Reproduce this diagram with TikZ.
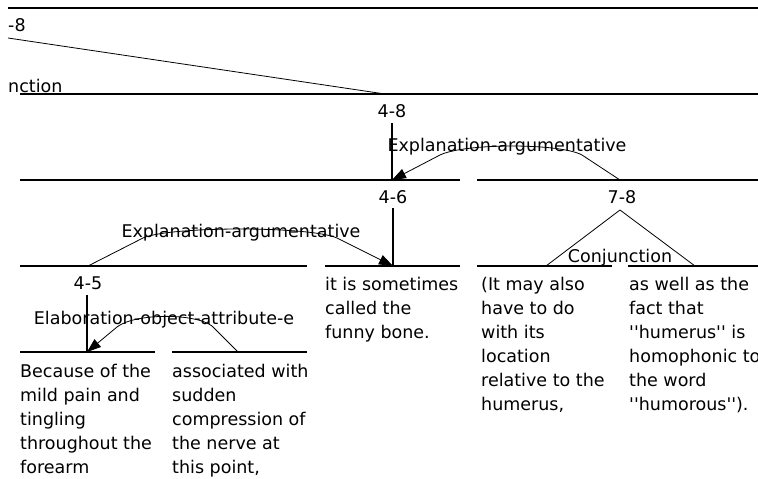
\documentclass[tikz,border=0pt]{standalone}
\usepackage{fontspec}
\setmainfont{DejaVu Sans}
\usetikzlibrary{arrows.meta}
\begin{document}
\begin{tikzpicture}[x=1pt,y=-1pt,
  lbl/.style={font=\fontsize{17.5}{24}\selectfont, inner sep=0pt},
  txt/.style={lbl, anchor=north west, align=left},
  spanline/.style={line width=1.3pt},
  topline/.style={line width=1.8pt},
  rel/.style={line width=0.8pt},
  arr/.style={rel, -{Triangle[length=14pt,width=10pt]}},
  vert/.style={line width=1.2pt},
]
\useasboundingbox (0,0) rectangle (758,479);
\clip (0,0) rectangle (758,479);

% span line end points
\coordinate (a0) at (8,8);    \coordinate (b0) at (758,8);
\coordinate (a48) at (20,94); \coordinate (b48) at (758,94);
\coordinate (a46) at (20,180); \coordinate (b46) at (460,180);
\coordinate (a78) at (477,180); \coordinate (b78) at (758,180);
\coordinate (a45) at (20,266); \coordinate (b45) at (307,266);
\coordinate (a6) at (325,266); \coordinate (b6) at (460,266);
\coordinate (a7) at (477,266); \coordinate (b7) at (612,266);
\coordinate (a8) at (628,266); \coordinate (b8) at (758,266);
\coordinate (a4) at (20,352); \coordinate (b4) at (155,352);
\coordinate (a5) at (172,352); \coordinate (b5) at (307,352);

\draw[topline] (a0) -- (b0);
\foreach \s in {48,46,78,45,6,7,8,4,5} \draw[spanline] (a\s) -- (b\s);

% attachment points
\coordinate (d0) at (8,38);   \coordinate (n48) at (385,94);
\coordinate (v48) at (392,123); \coordinate (n46) at (392,180);
\coordinate (v46) at (393,208); \coordinate (n6) at (393,266);
\coordinate (v45) at (87,295);  \coordinate (n4) at (87,352);
\coordinate (n78) at (620,180); \coordinate (apex) at (620,210);
\coordinate (n7) at (546,266);  \coordinate (n8) at (695,266);
\coordinate (n45) at (88,266);  \coordinate (n5) at (238,352);

% labels
\node[lbl, anchor=base west] (m8) at (8,31) {-8};
\node[lbl, anchor=base west] (mc) at (8,92) {nction};
\node[lbl, anchor=base] (l48) at (392,117) {4-8};
\node[lbl, anchor=base] (l46) at (393,203) {4-6};
\node[lbl, anchor=base] (l78) at (622,203) {7-8};
\node[lbl, anchor=base] (l45) at (88,289) {4-5};
\node[lbl, anchor=base] (r1) at (507,151) {Explanation-argumentative};
\node[lbl, anchor=base] (r2) at (241,237) {Explanation-argumentative};
\node[lbl, anchor=base] (r3) at (164,324) {Elaboration-object-attribute-e};
\node[lbl, anchor=base] (r4) at (620,262) {Conjunction};

% connectors
\draw[rel] (d0) -- (n48);
\draw[vert] (v48) -- (n46);
\draw[vert] (v46) -- (n6);
\draw[vert] (v45) -- (n4);
\draw[rel] (n7) -- (apex) -- (n8);
\draw[arr] (n78) -- (582,155) .. controls (560,143) and (465,143) .. (440,155) -- (n46);
\draw[arr] (n45) -- (143,238) .. controls (170,226) and (310,226) .. (337,238) -- (n6);
\draw[arr] (n5) -- (212,326) .. controls (195,313) and (135,313) .. (117,327) -- (n4);

% segment texts
\node[txt] (t4) at (20,360.2) {\strut Because of the\\mild pain and\\tingling\\throughout the\\forearm};
\node[txt] (t5) at (172,360.2) {\strut associated with\\sudden\\compression of\\the nerve at\\this point,};
\node[txt] (t6) at (325,273.2) {\strut it is sometimes\\called the\\funny bone.};
\node[txt] (t7) at (481,273.2) {\strut (It may also\\have to do\\with its\\location\\relative to the\\humerus,};
\node[txt] (t8) at (629,273.2) {\strut as well as the\\fact that\\\textquotesingle\textquotesingle humerus\textquotesingle\textquotesingle{} is\\homophonic to\\the word\\\textquotesingle\textquotesingle humorous\textquotesingle\textquotesingle).};
\end{tikzpicture}
\end{document}
